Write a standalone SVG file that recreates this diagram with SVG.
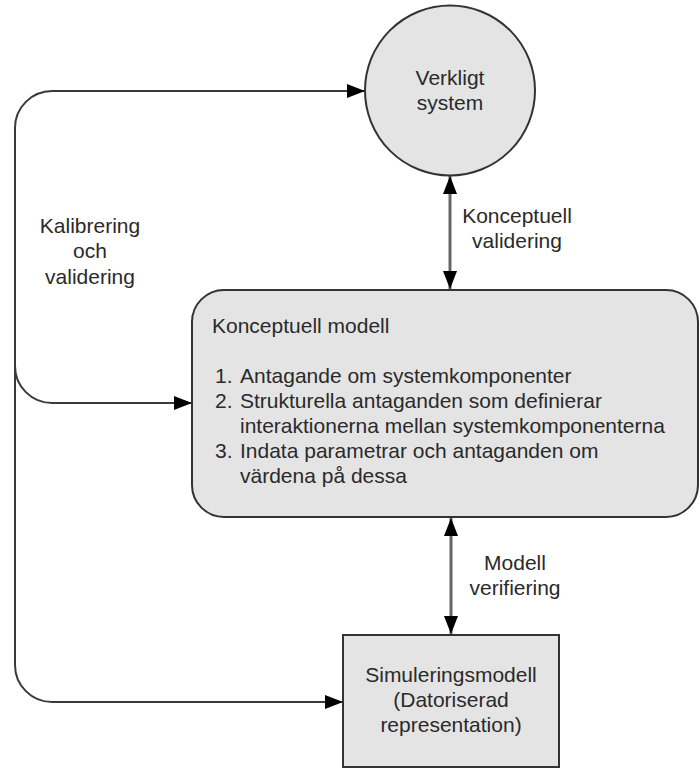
<svg xmlns="http://www.w3.org/2000/svg" width="700" height="769" viewBox="0 0 700 769">
  <defs>
    <style>
      .shape { fill: #e4e4e4; stroke: #333333; stroke-width: 2; }
      .label { font-family: "Liberation Sans", Arial, sans-serif; font-size: 21px; fill: #2a2a2a; }
      .mid { text-anchor: middle; }
      .loop { fill: none; stroke: #3a3a3a; stroke-width: 2; marker-end: url(#head); }
      .link { fill: none; stroke: #666666; stroke-width: 3; marker-start: url(#head); marker-end: url(#head); }
    </style>
    <marker id="head" markerUnits="userSpaceOnUse" markerWidth="18" markerHeight="14" refX="18" refY="7" orient="auto-start-reverse" viewBox="0 0 18 14">
      <path d="M0,0 L18,7 L0,14 z" fill="#000000"/>
    </marker>
  </defs>

  <!-- connectors -->
  <g id="connectors">
    <path class="loop" d="M15,665 V128 A37,37 0 0 1 52,91 H365"/>
    <path class="loop" d="M15,366 A37,37 0 0 0 52,403 H192"/>
    <path class="loop" d="M15,665 A37,37 0 0 0 52,702 H343"/>
    <path class="link" d="M450,176 V289"/>
    <path class="link" d="M451,518 V634"/>
  </g>

  <!-- edge labels -->
  <g id="edge-labels">
    <text class="label mid" x="90" y="233">Kalibrering</text>
    <text class="label mid" x="90" y="258">och</text>
    <text class="label mid" x="90" y="284">validering</text>
    <text class="label mid" x="517" y="223">Konceptuell</text>
    <text class="label mid" x="517" y="248">validering</text>
    <text class="label mid" x="515" y="570">Modell</text>
    <text class="label mid" x="515" y="595">verifiering</text>
  </g>

  <!-- real system -->
  <g id="verkligt-system">
    <circle class="shape" cx="450" cy="90.5" r="85"/>
    <text class="label mid" x="450" y="85">Verkligt</text>
    <text class="label mid" x="450" y="110">system</text>
  </g>

  <!-- conceptual model -->
  <g id="konceptuell-modell">
    <rect class="shape" x="192" y="290" width="506" height="227" rx="32" ry="32"/>
    <text class="label" x="212" y="333">Konceptuell modell</text>
    <text class="label" x="215" y="383">1.</text>
    <text class="label" x="240" y="383">Antagande om systemkomponenter</text>
    <text class="label" x="215" y="408">2.</text>
    <text class="label" x="240" y="408">Strukturella antaganden som definierar</text>
    <text class="label" x="240" y="433">interaktionerna mellan systemkomponenterna</text>
    <text class="label" x="215" y="458">3.</text>
    <text class="label" x="240" y="458">Indata parametrar och antaganden om</text>
    <text class="label" x="240" y="483">värdena på dessa</text>
  </g>

  <!-- simulation model -->
  <g id="simuleringsmodell">
    <rect class="shape" x="343" y="635" width="216" height="132"/>
    <text class="label mid" x="451" y="682">Simuleringsmodell</text>
    <text class="label mid" x="451" y="707">(Datoriserad</text>
    <text class="label mid" x="451" y="732">representation)</text>
  </g>
</svg>
